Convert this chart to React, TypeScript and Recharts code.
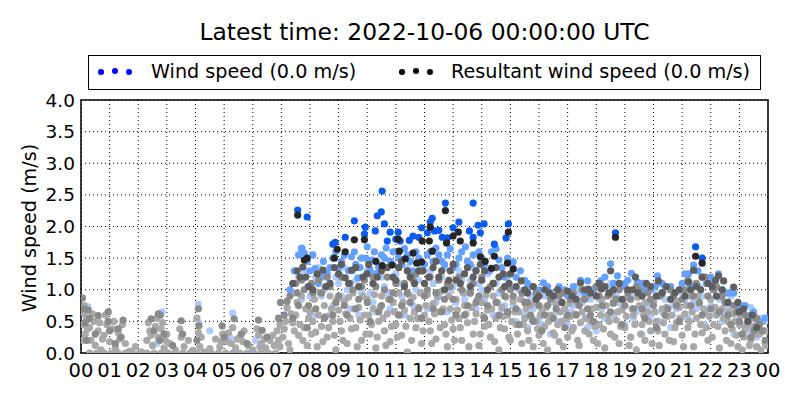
import React from "react";
import { ScatterChart, Scatter, XAxis, YAxis, CartesianGrid, ReferenceArea } from "recharts";

type Pt = [number, number];

const hourTicks = [0, 1, 2, 3, 4, 5, 6, 7, 8, 9, 10, 11, 12, 13, 14, 15, 16, 17, 18, 19, 20, 21, 22, 23, 24];
const speedTicks = [0, 0.5, 1, 1.5, 2, 2.5, 3, 3.5, 4];

const titleText = "Latest time: 2022-10-06 00:00:00 UTC";
const windLabel = "Wind speed (0.0 m/s)";
const resultantLabel = "Resultant wind speed (0.0 m/s)";

// older resultant speeds (light gray)
const resultantOld: Pt[] = [
  [0.05, 0.45], [0.1, 0.62], [0.15, 0.3], [0.2, 0.55], [0.3, 0.4], [0.35, 0.2], [0.45, 0.5], [0.5, 0.12],
  [0.6, 0.35], [0.7, 0.05], [0.8, 0.28], [0.9, 0.45], [1.0, 0.18], [1.1, 0.38], [1.2, 0.08], [1.3, 0.32],
  [1.45, 0.45], [1.55, 0.15], [1.7, 0.03], [1.9, 0.1], [2.1, 0.02], [2.3, 0.2], [2.4, 0.35], [2.5, 0.12],
  [2.6, 0.42], [2.7, 0.25], [2.8, 0.38], [2.9, 0.08], [3.0, 0.3], [3.1, 0.15], [3.3, 0.05], [3.5, 0.25],
  [3.6, 0.1], [3.75, 0.2], [3.9, 0.04], [4.1, 0.32], [4.15, 0.1], [4.3, 0.02], [4.5, 0.07], [4.7, 0.22],
  [4.85, 0.1], [4.95, 0.3], [5.1, 0.18], [5.3, 0.4], [5.4, 0.08], [5.55, 0.25], [5.7, 0.35], [5.85, 0.12],
  [6.0, 0.05], [6.2, 0.28], [6.3, 0.15], [6.45, 0.08], [6.6, 0.2], [6.75, 0.12], [6.85, 0.35], [6.95, 0.1],
  [0.05, 0.2], [0.12, 0.75], [0.22, 0.38], [0.4, 0.62], [0.65, 0.48], [0.75, 0.22], [0.85, 0.6], [1.15, 0.5],
  [1.35, 0.22], [2.35, 0.48], [2.45, 0.28], [2.65, 0.55], [2.85, 0.48], [2.95, 0.2], [3.45, 0.38], [4.05, 0.55],
  [4.2, 0.25], [4.9, 0.18], [5.15, 0.32], [5.25, 0.15], [5.45, 0.22], [5.65, 0.18], [6.15, 0.38], [6.25, 0.1],
  [6.4, 0.22], [6.7, 0.28], [6.9, 0.2], [6.95, 0.45],
  [0.3, 0], [0.55, 0], [0.8, 0], [1.05, 0], [1.3, 0], [1.55, 0], [1.8, 0], [2.05, 0], [2.3, 0], [2.55, 0],
  [2.8, 0], [3.05, 0], [3.3, 0], [3.55, 0], [3.8, 0], [4.05, 0], [4.3, 0], [4.55, 0], [4.8, 0], [5.05, 0],
  [5.3, 0], [5.55, 0], [5.8, 0], [6.05, 0], [6.3, 0], [6.55, 0], [6.8, 0],
  [7.05, 0.25], [7.15, 0.5], [7.25, 0.15], [7.35, 0.62], [7.45, 0.35], [7.55, 0.8], [7.65, 0.45], [7.75, 0.2],
  [7.85, 0.7], [7.95, 0.55], [8.05, 0.3], [8.15, 0.85], [8.25, 0.1], [8.3, 0.6], [8.4, 0.42], [8.5, 0.75],
  [8.6, 0.25], [8.7, 0.9], [8.8, 0.5], [8.9, 0.05], [9.0, 0.68], [9.1, 0.35], [9.2, 0.82], [9.3, 0.15],
  [9.4, 0.55], [9.5, 0.95], [9.6, 0.4], [9.7, 0.72], [9.8, 0.2], [9.9, 0.6], [10.0, 0.85], [10.1, 0.3],
  [10.2, 0.7], [10.3, 0.08], [10.4, 0.5], [10.5, 0.9], [10.6, 0.35], [10.7, 0.62], [10.8, 0.18], [10.9, 0.8],
  [11.0, 0.45], [11.1, 0.95], [11.2, 0.28], [11.3, 0.68], [11.4, 0.02], [11.5, 0.55], [11.6, 0.88], [11.7, 0.4],
  [11.8, 0.72], [11.9, 0.15], [12.0, 0.6], [12.1, 0.92], [12.2, 0.35], [12.3, 0.78], [12.4, 0.22], [12.5, 0.65],
  [12.6, 0.98], [12.7, 0.45], [12.8, 0.1], [12.9, 0.7], [13.0, 0.38], [13.1, 0.85], [13.2, 0.55], [13.3, 0.2],
  [13.4, 0.75], [13.5, 0.48], [13.6, 0.95], [13.7, 0.3], [13.8, 0.62], [13.9, 0.12], [14.0, 0.8], [14.1, 0.42],
  [14.2, 0.68], [14.3, 0.25], [14.4, 0.9], [14.5, 0.55], [14.6, 0.05], [14.7, 0.72], [14.8, 0.38], [14.9, 0.6],
  [15.0, 0.2], [15.1, 0.82], [15.2, 0.45], [15.3, 0.65], [15.4, 0.15], [15.5, 0.55], [15.6, 0.35], [15.7, 0.75],
  [15.8, 0.1], [15.9, 0.5], [16.0, 0.28], [16.1, 0.68], [16.2, 0.42], [16.3, 0.05], [16.4, 0.6], [16.5, 0.32],
  [16.6, 0.78], [16.7, 0.18], [16.8, 0.5], [16.9, 0.7], [17.0, 0.25], [17.1, 0.58], [17.2, 0.4], [17.3, 0.82],
  [17.4, 0.12], [17.5, 0.65], [17.6, 0.35], [17.7, 0.9], [17.8, 0.5], [17.9, 0.2], [18.0, 0.72], [18.1, 0.45],
  [18.2, 0.85], [18.3, 0.08], [18.4, 0.6], [18.5, 0.3], [18.6, 0.78], [18.7, 0.52], [18.8, 0.15], [18.9, 0.68],
  [19.0, 0.4], [19.1, 0.88], [19.2, 0.25], [19.3, 0.6], [19.4, 0.05], [19.5, 0.75], [19.6, 0.45], [19.7, 0.2],
  [19.8, 0.65], [19.9, 0.35], [20.0, 0.82], [20.1, 0.5], [20.2, 0.12], [20.3, 0.7], [20.4, 0.3], [20.5, 0.58],
  [20.6, 0.85], [20.7, 0.18], [20.8, 0.48], [20.9, 0.72], [21.0, 0.28], [21.1, 0.62], [21.2, 0.4], [21.3, 0.9],
  [21.4, 0.1], [21.5, 0.55], [21.6, 0.78], [21.7, 0.32], [21.8, 0.65], [21.9, 0.2], [22.0, 0.85], [22.1, 0.45],
  [22.2, 0.6], [22.3, 0.08], [22.4, 0.7], [22.5, 0.35], [22.6, 0.5], [22.7, 0.15], [22.8, 0.62], [22.9, 0.28],
  [23.0, 0.45], [23.1, 0.05], [23.2, 0.38], [23.3, 0.55], [23.4, 0.2], [23.5, 0.42], [23.6, 0.1], [23.7, 0.3],
  [23.8, 0.5], [23.9, 0.15], [23.95, 0.35],
  [7.1, 0.38], [7.2, 0.72], [7.3, 0.05], [7.4, 0.48], [7.5, 0.6], [7.6, 0.28], [7.7, 0.9], [7.8, 0.4],
  [7.9, 0.12], [8.0, 0.65], [8.1, 0.5], [8.2, 0.33], [8.35, 0.95], [8.45, 0.18], [8.55, 0.58], [8.65, 0.4],
  [8.75, 0.7], [8.85, 0.28], [8.95, 0.85], [9.05, 0.5], [9.15, 0.2], [9.25, 0.62], [9.35, 0.88], [9.45, 0.38],
  [9.55, 0.7], [9.65, 0.1], [9.75, 0.52], [9.85, 0.9], [9.95, 0.3], [10.05, 0.6], [10.15, 0.45], [10.25, 0.92],
  [10.35, 0.25], [10.45, 0.72], [10.55, 0.55], [10.65, 0.12], [10.75, 0.85], [10.85, 0.42], [10.95, 0.65], [11.05, 0.25],
  [11.15, 0.6], [11.25, 0.8], [11.35, 0.42], [11.45, 0.92], [11.55, 0.2], [11.65, 0.65], [11.75, 0.55], [11.85, 0.95],
  [11.95, 0.35], [12.05, 0.75], [12.15, 0.5], [12.25, 0.15], [12.35, 0.62], [12.45, 0.88], [12.55, 0.4], [12.65, 0.7],
  [12.75, 0.3], [12.85, 0.9], [12.95, 0.52], [13.05, 0.2], [13.15, 0.68], [13.25, 0.4], [13.35, 0.95], [13.45, 0.62],
  [13.55, 0.1], [13.65, 0.72], [13.75, 0.5], [13.85, 0.85], [13.95, 0.3], [14.05, 0.58], [14.15, 0.92], [14.25, 0.45],
  [14.35, 0.7], [14.45, 0.18], [14.55, 0.8], [14.65, 0.4], [14.75, 0.58], [14.85, 0.88], [14.95, 0.25], [15.05, 0.5],
  [15.15, 0.65], [15.25, 0.3], [15.35, 0.85], [15.45, 0.45], [15.55, 0.7], [15.65, 0.2], [15.75, 0.55], [15.85, 0.8],
  [15.95, 0.38], [16.05, 0.6], [16.15, 0.15], [16.25, 0.72], [16.35, 0.5], [16.45, 0.85], [16.55, 0.28], [16.65, 0.45],
  [16.75, 0.65], [16.85, 0.1], [16.95, 0.55], [17.05, 0.78], [17.15, 0.35], [17.25, 0.62], [17.35, 0.2], [17.45, 0.48],
  [17.55, 0.85], [17.65, 0.55], [17.75, 0.3], [17.85, 0.7], [17.95, 0.42], [18.05, 0.15], [18.15, 0.6], [18.25, 0.38],
  [18.35, 0.75], [18.45, 0.5], [18.55, 0.92], [18.65, 0.25], [18.75, 0.65], [18.85, 0.42], [18.95, 0.85], [19.05, 0.58],
  [19.15, 0.12], [19.25, 0.7], [19.35, 0.45], [19.45, 0.88], [19.55, 0.3], [19.65, 0.6], [19.75, 0.8], [19.85, 0.5],
  [19.95, 0.15], [20.05, 0.65], [20.15, 0.35], [20.25, 0.9], [20.35, 0.48], [20.45, 0.72], [20.55, 0.2], [20.65, 0.6],
  [20.75, 0.4], [20.85, 0.82], [20.95, 0.55], [21.05, 0.1], [21.15, 0.75], [21.25, 0.5], [21.35, 0.65], [21.45, 0.3],
  [21.55, 0.9], [21.65, 0.45], [21.75, 0.7], [21.85, 0.4], [21.95, 0.58], [22.05, 0.25], [22.15, 0.72], [22.25, 0.42],
  [22.35, 0.88], [22.45, 0.55], [22.55, 0.2], [22.65, 0.65], [22.75, 0.38], [22.85, 0.5], [22.95, 0.1], [23.05, 0.6],
  [23.15, 0.25], [23.25, 0.42], [23.35, 0.12], [23.45, 0.55], [23.55, 0.3], [23.65, 0.48], [23.75, 0.05], [23.85, 0.35],
  [23.95, 0.12],
];

// older wind speeds (light blue)
const windOld: Pt[] = [
  [0.25, 0.73], [2.83, 0.65], [4.1, 0.77], [4.12, 0.47], [5.3, 0.63], [5.0, 0.3], [5.2, 0.25], [6.1, 0.2],
  [4.5, 0.35], [2.65, 0.15],
  [7.2, 0.7], [7.4, 0.95], [7.6, 1.2], [7.7, 0.85], [7.9, 1.05], [8.1, 0.6], [8.2, 1.2], [8.4, 0.9],
  [8.6, 1.3], [8.8, 0.75], [9.0, 1.1], [9.2, 1.35], [9.4, 0.7], [9.6, 1.15], [9.8, 0.95], [10.0, 1.3],
  [10.2, 0.8], [10.4, 1.4], [10.6, 1.05], [10.8, 0.7], [11.0, 1.25], [11.2, 0.9], [11.4, 1.35], [11.6, 0.75],
  [11.8, 1.15], [12.0, 0.95], [12.2, 1.3], [12.4, 0.8], [12.6, 1.2], [12.8, 0.65], [13.0, 1.05], [13.2, 1.3],
  [13.4, 0.85], [13.6, 1.15], [13.8, 0.7], [14.0, 1.0], [14.2, 1.25], [14.4, 0.6], [14.6, 0.95], [14.8, 0.75],
  [15.0, 1.05], [15.2, 0.5], [15.4, 0.85], [15.6, 0.4], [15.8, 0.7], [16.0, 0.55], [16.2, 0.9], [16.4, 0.3],
  [16.6, 0.65], [16.8, 0.8], [17.0, 0.45], [17.2, 0.75], [17.4, 0.95], [17.6, 0.55], [17.8, 0.85], [18.0, 0.35],
  [18.2, 0.7], [18.4, 1.0], [18.6, 0.6], [18.8, 0.8], [19.0, 0.45], [19.2, 0.9], [19.4, 0.65], [19.6, 0.3],
  [19.8, 0.75], [20.0, 1.0], [20.2, 0.5], [20.4, 0.85], [20.6, 0.4], [20.8, 0.7], [21.0, 0.95], [21.2, 0.55],
  [21.4, 0.8], [21.6, 1.05], [21.8, 0.45], [22.0, 0.75], [22.2, 0.9], [22.4, 0.5], [22.6, 0.7], [22.8, 0.3],
  [23.0, 0.6], [23.2, 0.45], [23.4, 0.72], [23.6, 0.25], [23.8, 0.55],
  [7.5, 0.6], [7.8, 1.3], [8.0, 0.9], [8.3, 1.35], [8.5, 1.0], [8.7, 0.6], [8.9, 1.2], [9.1, 0.9],
  [9.3, 1.0], [9.5, 1.3], [9.7, 0.6], [9.9, 1.2], [10.1, 0.95], [10.3, 0.65], [10.5, 1.2], [10.7, 0.95],
  [10.9, 1.4], [11.1, 1.1], [11.3, 0.6], [11.5, 1.2], [11.7, 1.0], [11.9, 1.35], [12.1, 0.7], [12.3, 1.1],
  [12.5, 0.9], [12.7, 1.35], [12.9, 1.0], [13.1, 0.8], [13.3, 1.15], [13.5, 0.95], [13.7, 1.35], [13.9, 1.1],
  [14.1, 0.85], [14.3, 1.3], [14.5, 1.1], [14.7, 0.7], [14.9, 1.2], [15.1, 0.75], [15.3, 1.0], [15.5, 0.6],
  [15.7, 0.9], [15.9, 0.75], [16.1, 0.45], [16.3, 1.0], [16.5, 0.8], [16.7, 0.5], [16.9, 0.95], [17.1, 0.65],
  [17.3, 1.05], [17.5, 0.8], [17.7, 0.4], [17.9, 1.0], [18.1, 0.85], [18.3, 0.55], [18.5, 1.1], [18.7, 0.9],
  [18.9, 0.7], [19.1, 1.0], [19.3, 0.55], [19.5, 0.9], [19.7, 0.8], [19.9, 0.6], [20.1, 0.9], [20.3, 0.65],
  [20.5, 1.0], [20.7, 0.75], [20.9, 0.55], [21.1, 0.85], [21.3, 1.1], [21.5, 0.7], [21.7, 0.9], [21.9, 1.15],
  [22.1, 0.65], [22.3, 0.85], [22.5, 0.6], [22.7, 0.9], [22.9, 0.5], [23.1, 0.75], [23.3, 0.35], [23.5, 0.6],
  [23.7, 0.4], [23.9, 0.5],
];

// middle-aged resultant speeds (mid gray)
const resultantMid: Pt[] = [
  [0.05, 0.87], [0.1, 0.7], [0.25, 0.68], [0.3, 0.55], [0.6, 0.59], [0.15, 0.48], [0.95, 0.65], [0.95, 0.5],
  [1.0, 0.35], [1.47, 0.52], [1.3, 0.38], [1.4, 0.25], [2.45, 0.54], [2.7, 0.62], [2.77, 0.6], [2.55, 0.35],
  [2.9, 0.3], [2.75, 0.2], [3.5, 0.51], [3.55, 0.3], [4.1, 0.7], [4.12, 0.43], [4.05, 0.2], [4.93, 0.43],
  [5.35, 0.54], [5.0, 0.25], [5.6, 0.3], [6.2, 0.52], [6.33, 0.36], [6.5, 0.25], [6.97, 0.8], [6.9, 0.55],
  [0.5, 0.3], [0.2, 0.2], [1.2, 0.15], [3.2, 0.12], [5.8, 0.15],
  [7.1, 0.6], [7.3, 0.9], [7.5, 1.1], [7.6, 0.75], [7.8, 1.0], [7.9, 0.4], [8.1, 0.95], [8.3, 1.15],
  [8.5, 0.55], [8.7, 1.05], [8.9, 0.8], [9.1, 1.2], [9.3, 0.6], [9.5, 1.0], [9.7, 0.85], [9.9, 1.15],
  [10.1, 0.5], [10.3, 1.05], [10.5, 0.75], [10.7, 1.2], [10.9, 0.95], [11.1, 0.6], [11.3, 1.1], [11.5, 0.8],
  [11.7, 1.25], [11.9, 0.55], [12.1, 1.0], [12.3, 0.7], [12.5, 1.15], [12.7, 0.85], [12.9, 1.05], [13.1, 0.6],
  [13.3, 1.0], [13.5, 0.75], [13.7, 1.1], [13.9, 0.9], [14.1, 0.55], [14.3, 1.05], [14.5, 0.8], [14.7, 1.0],
  [14.9, 0.65], [15.1, 0.9], [15.3, 0.45], [15.5, 0.8], [15.7, 0.6], [15.9, 0.95], [16.1, 0.35], [16.3, 0.75],
  [16.5, 0.55], [16.7, 0.9], [16.9, 0.4], [17.1, 0.85], [17.3, 0.6], [17.5, 1.0], [17.7, 0.7], [17.9, 0.5],
  [18.1, 0.9], [18.3, 1.05], [18.5, 0.65], [18.7, 0.85], [18.9, 0.45], [19.1, 0.95], [19.3, 0.7], [19.5, 1.0],
  [19.7, 0.55], [19.9, 0.85], [20.1, 0.4], [20.3, 0.95], [20.5, 0.7], [20.7, 0.9], [20.9, 0.5], [21.1, 1.0],
  [21.3, 0.75], [21.5, 1.1], [21.7, 0.6], [21.9, 0.9], [22.1, 1.0], [22.3, 0.65], [22.5, 0.8], [22.7, 0.45],
  [22.9, 0.65], [23.1, 0.3], [23.3, 0.5], [23.5, 0.35], [23.7, 0.45], [23.9, 0.2],
  [7.2, 0.82], [7.4, 0.55], [7.55, 0.95], [7.7, 1.15], [7.95, 0.75], [8.05, 1.1], [8.2, 0.7], [8.4, 0.95],
  [8.6, 1.2], [8.8, 0.6], [9.0, 0.9], [9.2, 0.75], [9.4, 1.1], [9.6, 0.7], [9.8, 1.05], [10.0, 0.8],
  [10.2, 1.2], [10.4, 0.65], [10.6, 1.0], [10.8, 0.85], [11.0, 1.1], [11.2, 0.75], [11.4, 0.95], [11.6, 1.15],
  [11.8, 0.7], [12.0, 0.9], [12.2, 1.2], [12.4, 0.95], [12.6, 0.65], [12.8, 1.1], [13.0, 0.85], [13.2, 1.2],
  [13.4, 0.6], [13.6, 0.95], [13.8, 0.8], [14.0, 1.2], [14.2, 0.75], [14.4, 1.1], [14.6, 0.6], [14.8, 0.9],
  [15.0, 1.0], [15.2, 0.7], [15.4, 0.95], [15.6, 0.8], [15.8, 0.5], [16.0, 0.75], [16.2, 0.6], [16.4, 0.85],
  [16.6, 0.7], [16.8, 0.95], [17.0, 0.6], [17.2, 0.95], [17.4, 0.75], [17.6, 0.85], [17.8, 0.6], [18.0, 1.05],
  [18.2, 0.75], [18.4, 0.9], [18.6, 0.8], [18.8, 1.0], [19.0, 0.75], [19.2, 0.85], [19.4, 1.05], [19.6, 0.7],
  [19.8, 0.95], [20.0, 0.75], [20.2, 0.9], [20.4, 0.6], [20.6, 1.0], [20.8, 0.75], [21.0, 0.85], [21.2, 1.15],
  [21.4, 0.9], [21.6, 0.8], [21.8, 1.2], [22.0, 0.7], [22.2, 1.05], [22.4, 0.9], [22.6, 0.6], [22.8, 0.75],
  [23.0, 0.5], [23.2, 0.6], [23.4, 0.25], [23.6, 0.55], [23.8, 0.35],
];

// middle-aged wind speeds (mid blue)
const windMid: Pt[] = [
  [7.3, 1.0], [7.45, 1.3], [7.6, 1.55], [7.7, 1.65], [7.8, 1.58], [7.72, 1.66], [8.0, 1.3], [8.18, 1.34],
  [8.3, 1.1], [8.47, 1.45], [8.6, 1.25], [8.8, 1.5], [9.0, 1.35], [9.2, 1.55], [9.45, 1.52], [9.6, 1.4],
  [9.68, 1.19], [9.8, 1.5], [10.0, 1.68], [10.1, 1.31], [10.17, 1.47], [10.3, 1.25], [10.5, 1.55], [10.66, 1.66],
  [10.8, 1.45], [11.0, 1.6], [11.2, 1.4], [11.4, 1.55], [11.6, 1.3], [11.8, 1.5], [12.0, 1.4], [12.2, 1.6],
  [12.4, 1.66], [12.6, 1.45], [12.8, 1.55], [13.0, 1.35], [13.2, 1.5], [13.43, 1.68], [13.6, 1.4], [13.8, 1.3],
  [14.0, 1.5], [14.34, 1.6], [14.6, 1.47], [14.8, 1.2], [15.1, 1.44], [15.35, 1.3], [15.5, 1.15], [15.7, 1.05],
  [16.0, 1.0], [16.15, 1.11], [16.4, 0.95], [16.7, 1.05], [17.0, 0.9], [17.45, 1.15], [17.7, 1.14], [17.9, 1.0],
  [18.15, 1.14], [18.5, 1.41], [18.74, 1.22], [19.0, 1.1], [19.23, 1.26], [19.44, 1.12], [19.7, 1.0], [20.07, 1.06],
  [20.14, 1.22], [20.4, 1.05], [20.7, 0.95], [21.0, 1.1], [21.22, 1.25], [21.4, 1.39], [21.7, 1.2], [22.1, 1.11],
  [22.27, 1.25], [22.6, 0.95], [22.9, 0.75], [23.1, 0.7], [23.4, 0.6], [23.7, 0.5],
  [7.9, 1.45], [8.1, 1.55], [8.4, 1.2], [8.7, 1.35], [8.9, 1.6], [9.1, 1.45], [9.35, 1.3], [9.55, 1.6],
  [9.75, 1.35], [9.95, 1.5], [10.25, 1.6], [10.4, 1.35], [10.6, 1.5], [10.9, 1.6], [11.1, 1.5], [11.3, 1.65],
  [11.5, 1.45], [11.7, 1.6], [11.9, 1.3], [12.1, 1.55], [12.3, 1.45], [12.5, 1.55], [12.7, 1.4], [12.9, 1.65],
  [13.1, 1.4], [13.3, 1.6], [13.5, 1.45], [13.7, 1.55], [13.9, 1.6], [14.1, 1.4], [14.25, 1.3], [14.5, 1.65],
  [14.7, 1.35], [14.9, 1.5], [15.2, 1.2], [15.6, 1.1], [15.9, 0.95], [16.3, 1.05], [16.6, 0.9], [16.9, 1.0],
  [17.2, 1.05], [17.6, 0.95], [18.0, 1.05], [18.3, 1.2], [18.6, 1.1], [18.9, 1.05], [19.1, 1.15], [19.35, 1.0],
  [19.6, 1.1], [19.9, 1.0], [20.3, 1.1], [20.6, 1.05], [20.9, 1.0], [21.1, 1.25], [21.3, 1.05], [21.55, 1.3],
  [21.85, 1.1], [22.0, 1.2], [22.4, 1.0], [22.8, 0.95], [23.2, 0.75], [23.5, 0.65], [23.9, 0.55],
];

// recent resultant speeds (dark gray)
const resultantRecent: Pt[] = [
  [7.4, 1.1], [7.55, 1.3], [7.75, 1.36], [7.85, 1.2], [8.1, 1.0], [8.45, 1.31], [8.7, 1.1], [9.0, 1.25],
  [9.23, 1.19], [9.45, 1.31], [9.7, 1.05], [9.99, 1.25], [10.2, 1.1], [10.5, 1.3], [10.9, 1.2], [11.1, 1.35],
  [11.3, 1.05], [11.5, 1.2], [11.8, 1.3], [12.0, 1.1], [12.3, 1.35], [12.5, 1.2], [12.7, 1.0], [12.9, 1.3],
  [13.1, 1.15], [13.4, 1.25], [13.6, 1.05], [13.8, 1.3], [14.0, 1.15], [14.2, 1.0], [14.6, 1.2], [14.8, 1.05],
  [15.0, 1.25], [15.38, 1.14], [15.6, 0.95], [15.9, 0.85], [16.2, 1.0], [16.5, 0.9], [16.8, 0.8], [17.0, 0.98],
  [17.3, 0.85], [17.6, 1.0], [18.0, 0.9], [18.3, 1.05], [18.6, 1.0], [18.9, 0.85], [19.1, 1.0], [19.6, 0.9],
  [19.9, 1.05], [20.3, 0.95], [20.6, 0.85], [20.9, 1.0], [21.1, 0.9], [21.5, 1.05], [21.9, 1.1], [22.2, 0.9],
  [22.6, 0.8], [23.0, 0.65], [23.3, 0.5], [23.6, 0.4],
  [21.7, 1.2], [22.27, 1.22], [22.45, 1.14], [22.17, 1.15], [21.22, 1.12], [17.45, 1.11], [20.17, 1.14],
  [19.37, 1.2], [22.8, 1.04], [18.18, 1.01], [17.73, 1.01], [19.27, 1.0], [18.5, 1.3], [21.4, 1.31],
  [7.65, 1.2], [7.95, 1.05], [8.25, 1.25], [8.55, 1.05], [8.85, 1.35], [9.1, 1.4], [9.35, 1.1], [9.6, 1.35],
  [9.85, 1.2], [10.05, 1.4], [10.35, 1.2], [10.7, 1.35], [11.0, 1.15], [11.2, 1.45], [11.4, 1.3], [11.65, 1.1],
  [11.95, 1.3], [12.15, 1.2], [12.4, 1.45], [12.6, 1.3], [12.85, 1.15], [13.0, 1.4], [13.25, 1.1], [13.5, 1.35],
  [13.7, 1.2], [13.95, 1.4], [14.1, 1.3], [14.4, 1.1], [14.5, 1.35], [14.75, 1.25], [14.95, 1.1], [15.2, 1.05],
  [15.5, 1.0], [15.8, 1.05], [16.0, 0.9], [16.35, 0.95], [16.65, 1.0], [17.15, 0.9], [17.8, 0.95], [18.1, 1.1],
  [18.45, 0.95], [18.8, 1.1], [19.45, 0.95], [19.75, 1.1], [20.1, 0.9], [20.45, 1.05], [20.75, 0.95], [21.3, 1.0],
  [21.65, 1.0], [22.05, 1.05], [22.4, 1.0], [22.95, 0.8], [23.15, 0.7], [23.45, 0.6],
];

// latest wind speeds (bright blue)
const windLatest: Pt[] = [
  [7.57, 2.26], [7.9, 2.15], [10.52, 2.56], [9.55, 2.09], [10.49, 2.23], [10.35, 2.17], [10.6, 2.04], [9.93, 1.99],
  [10.28, 1.93], [9.23, 1.83], [9.9, 1.88], [10.8, 1.91], [11.08, 1.91], [11.15, 1.77], [11.47, 1.78], [11.6, 1.85],
  [11.8, 1.83], [11.9, 1.98], [8.88, 1.75], [8.8, 1.72], [10.7, 1.77], [11.0, 1.8], [12.73, 2.37], [13.7, 2.37],
  [12.27, 2.13], [12.2, 2.07], [13.2, 2.07], [13.87, 2.02], [14.08, 2.04], [14.93, 2.04], [12.1, 1.9], [12.35, 1.93],
  [12.5, 1.94], [13.0, 1.98], [13.57, 1.93], [13.95, 1.9], [12.62, 1.83], [12.8, 1.82], [13.7, 1.83], [14.85, 1.82],
  [14.44, 1.72], [18.67, 1.9], [21.47, 1.68], [21.7, 1.5],
];

// latest resultant speeds (black)
const resultantLatest: Pt[] = [
  [7.57, 2.18], [9.55, 1.79], [9.9, 1.79], [11.08, 1.8], [11.12, 1.61], [8.95, 1.64], [9.23, 1.6], [11.92, 1.77],
  [11.6, 1.58], [11.73, 1.42], [10.3, 1.45], [11.33, 1.49], [7.9, 1.5], [7.8, 1.47], [8.85, 1.5], [10.87, 1.39],
  [10.52, 1.38], [11.9, 1.44], [12.73, 2.25], [14.93, 1.91], [13.18, 1.91], [13.0, 1.85], [12.2, 1.99], [12.17, 1.77],
  [12.77, 1.74], [13.7, 1.74], [13.25, 1.77], [12.27, 1.61], [14.44, 1.53], [14.9, 1.42], [15.1, 1.33], [14.12, 1.45],
  [13.95, 1.52], [14.34, 1.34], [18.67, 1.83], [21.47, 1.53], [21.7, 1.42],
];

const layers: { name: string; pts: Pt[]; color: string }[] = [
  { name: "windOld", pts: windOld, color: "#aecbff" },
  { name: "resultantOld", pts: resultantOld, color: "#a9a9a9" },
  { name: "windMid", pts: windMid, color: "#64a0ff" },
  { name: "resultantMid", pts: resultantMid, color: "#8a8a8a" },
  { name: "resultantRecent", pts: resultantRecent, color: "#5e5e5e" },
  { name: "windLatest", pts: windLatest, color: "#0a5cf0" },
  { name: "resultantLatest", pts: resultantLatest, color: "#262626" },
];

const font = "'DejaVu Sans', sans-serif";

const dot = (color: string) => (props: any) => (
  <circle cx={props.cx} cy={props.cy} r={3.6} fill={color} />
);

const pad = (h: number) => String(h % 24).padStart(2, "0");

function LegendDots({ color, left }: { color: string; left: number }) {
  return (
    <>
      {[0, 14, 28].map((dx, i) => {
        const r = i === 0 ? 2.8 : 3.4;
        return (
          <span
            key={i}
            style={{
              position: "absolute",
              left: left + dx - r,
              top: (i === 1 ? 15 : 16) - r,
              width: r * 2,
              height: r * 2,
              borderRadius: "50%",
              background: color,
            }}
          />
        );
      })}
    </>
  );
}

export default function App() {
  return (
    <div style={{ position: "absolute", left: 0, top: 0, width: 800, height: 400, background: "#fff", fontFamily: font }}>
      <div style={{ position: "absolute", left: 0, top: 21, width: 849, textAlign: "center", fontSize: 23.4, lineHeight: 1 }}>
        {titleText}
      </div>
      <div
        style={{
          position: "absolute",
          left: 88,
          top: 55,
          width: 671,
          height: 33,
          border: "1px solid #000",
          background: "#fff",
          fontSize: 19.2,
          zIndex: 2,
        }}
      >
        <LegendDots color="#0000ff" left={12} />
        <span style={{ position: "absolute", left: 62, top: 6, lineHeight: 1, whiteSpace: "nowrap" }}>{windLabel}</span>
        <LegendDots color="#000" left={313} />
        <span style={{ position: "absolute", left: 362, top: 6, lineHeight: 1, whiteSpace: "nowrap" }}>{resultantLabel}</span>
      </div>
      <div style={{ position: "absolute", left: 30, top: 228, width: 0, height: 0 }}>
        <div
          style={{
            position: "absolute",
            transform: "translate(-50%, -50%) rotate(-90deg)",
            whiteSpace: "nowrap",
            fontSize: 19.2,
            lineHeight: 1,
          }}
        >
          Wind speed (m/s)
        </div>
      </div>
      <ScatterChart width={800} height={400} margin={{ top: 100, right: 32, bottom: 17, left: 21 }}>
        <CartesianGrid stroke="#000" strokeDasharray="1 3" strokeWidth={1} />
        <XAxis
          type="number"
          dataKey="x"
          domain={[0, 24]}
          ticks={hourTicks}
          tickFormatter={pad}
          interval={0}
          height={30}
          tickLine={false}
          axisLine={false}
          tickMargin={4}
          tick={{ fill: "#000", fontSize: 19.5, fontFamily: font }}
          allowDataOverflow
        />
        <YAxis
          type="number"
          dataKey="y"
          domain={[0, 4]}
          ticks={speedTicks}
          tickFormatter={(v: number) => v.toFixed(1)}
          interval={0}
          width={60}
          tickLine={false}
          axisLine={false}
          tickSize={3}
          tickMargin={3}
          tick={{ fill: "#000", fontSize: 18.5, fontFamily: font }}
          allowDataOverflow
        />
        {layers.map((l) => (
          <Scatter
            key={l.name}
            name={l.name}
            data={l.pts.map(([x, y]) => ({ x, y }))}
            fill={l.color}
            shape={dot(l.color)}
            isAnimationActive={false}
          />
        ))}
        <ReferenceArea x1={0} x2={24} y1={0} y2={4} fill="none" stroke="#000" strokeWidth={1.5} ifOverflow="visible" />
      </ScatterChart>
    </div>
  );
}
